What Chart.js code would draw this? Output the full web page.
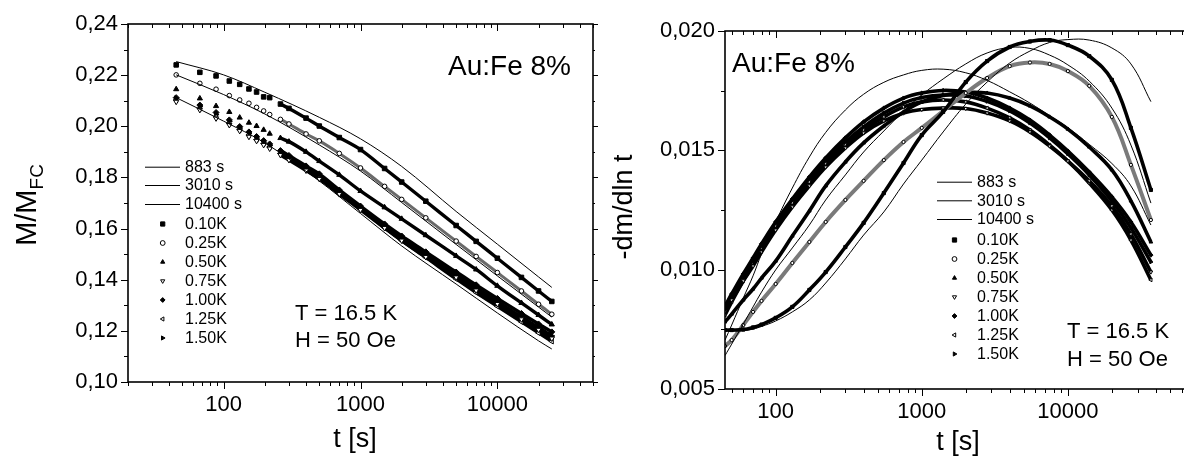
<!DOCTYPE html>
<html lang="en">
<head>
<meta charset="UTF-8">
<title>Au:Fe 8% relaxation</title>
<script src="https://cdn.jsdelivr.net/npm/chart.js"></script>
<style>
    body {
        margin: 0;
        background: #fff;
        overflow: hidden;
        width: 1184px;
        height: 458px;
        position: relative;
    }
    canvas { position: absolute; top: 0; }
    #leftChart { left: 0; }
    #rightChart { left: 600px; }
</style>
</head>
<body>
<canvas id="leftChart" width="600" height="458"></canvas>
<canvas id="rightChart" width="620" height="458"></canvas>
<script>
// ---------- left panel: M/M_FC vs t ----------
const tLeft = [45, 67, 88, 110, 131, 153, 174, 196, 217, 260, 300, 400, 500, 700, 1000, 1500, 2000, 3000, 5000, 7000, 10000, 15000, 20000, 25000];
const m010 = [0.2240, 0.2211, 0.2197, 0.2177, 0.2164, 0.2146, 0.2134, 0.2115, 0.2112, 0.2087, 0.2070, 0.2032, 0.2001, 0.1956, 0.1909, 0.1835, 0.1782, 0.1707, 0.1612, 0.1550, 0.1484, 0.1409, 0.1356, 0.1315];
const m025 = [0.2201, 0.2168, 0.2145, 0.2120, 0.2103, 0.2090, 0.2074, 0.2060, 0.2046, 0.2027, 0.2009, 0.1970, 0.1943, 0.1894, 0.1837, 0.1765, 0.1714, 0.1642, 0.1551, 0.1491, 0.1428, 0.1356, 0.1304, 0.1265];
const m050 = [0.2145, 0.2109, 0.2079, 0.2056, 0.2034, 0.2014, 0.2001, 0.1986, 0.1971, 0.1954, 0.1940, 0.1900, 0.1864, 0.1810, 0.1747, 0.1683, 0.1638, 0.1574, 0.1493, 0.1440, 0.1376, 0.1309, 0.1262, 0.1225];
const m075 = [0.2096, 0.2064, 0.2031, 0.2005, 0.1982, 0.1959, 0.1943, 0.1927, 0.1913, 0.1888, 0.1868, 0.1827, 0.1794, 0.1735, 0.1673, 0.1602, 0.1553, 0.1489, 0.1409, 0.1358, 0.1305, 0.1245, 0.1204, 0.1170];
const m100 = [0.2112, 0.2083, 0.2054, 0.2025, 0.1999, 0.1978, 0.1960, 0.1944, 0.1931, 0.1905, 0.1886, 0.1845, 0.1814, 0.1751, 0.1688, 0.1618, 0.1571, 0.1509, 0.1430, 0.1380, 0.1327, 0.1268, 0.1227, 0.1196];
const m125 = [0.2103, 0.2070, 0.2038, 0.2011, 0.1987, 0.1966, 0.1948, 0.1933, 0.1919, 0.1894, 0.1874, 0.1833, 0.1800, 0.1739, 0.1677, 0.1604, 0.1553, 0.1487, 0.1403, 0.1350, 0.1296, 0.1235, 0.1192, 0.1159];
const m150 = [0.2109, 0.2077, 0.2046, 0.2019, 0.1993, 0.1972, 0.1954, 0.1938, 0.1925, 0.1900, 0.1880, 0.1839, 0.1806, 0.1745, 0.1683, 0.1612, 0.1563, 0.1499, 0.1419, 0.1368, 0.1315, 0.1254, 0.1213, 0.1180];

// reference curves (thin lines)
const tLeftFit = [45, 100, 200, 500, 1000, 2000, 5000, 10000, 20000, 25000];
const fit883L = [0.2112, 0.2020, 0.1935, 0.1786, 0.1659, 0.1532, 0.1383, 0.1270, 0.1161, 0.1129];
const fit3010L = [0.2201, 0.2124, 0.2048, 0.1927, 0.1825, 0.1702, 0.1538, 0.1415, 0.1293, 0.1254];
const fit10400L = [0.2253, 0.2201, 0.2133, 0.2035, 0.1951, 0.1843, 0.1667, 0.1539, 0.1411, 0.1370];

// ---------- right panel: -dm/dln t vs t ----------
const tRight = [45, 50, 60, 70, 80, 100, 130, 170, 220, 300, 400, 550, 750, 1000, 1400, 2000, 2800, 4000, 5500, 7500, 10000, 14000, 20000, 27000, 37000];
const r010 = [0.00747, 0.00747, 0.00749, 0.00758, 0.00770, 0.00798, 0.00844, 0.00915, 0.00990, 0.01095, 0.01196, 0.01321, 0.01447, 0.01564, 0.01661, 0.01786, 0.01874, 0.01933, 0.01956, 0.01962, 0.01941, 0.01895, 0.01795, 0.01594, 0.01334];
const r025 = [0.00680, 0.00705, 0.00768, 0.00823, 0.00869, 0.00940, 0.01028, 0.01116, 0.01200, 0.01292, 0.01372, 0.01459, 0.01535, 0.01594, 0.01665, 0.01740, 0.01803, 0.01853, 0.01868, 0.01862, 0.01832, 0.01770, 0.01640, 0.01439, 0.01208];
const r050 = [0.00781, 0.00814, 0.00873, 0.00919, 0.00965, 0.01036, 0.01141, 0.01246, 0.01351, 0.01451, 0.01531, 0.01602, 0.01661, 0.01703, 0.01730, 0.01742, 0.01740, 0.01719, 0.01686, 0.01640, 0.01589, 0.01514, 0.01418, 0.01288, 0.01116];
const r075 = [0.00823, 0.00873, 0.00953, 0.01015, 0.01074, 0.01166, 0.01263, 0.01351, 0.01430, 0.01510, 0.01573, 0.01623, 0.01656, 0.01671, 0.01677, 0.01675, 0.01656, 0.01623, 0.01577, 0.01518, 0.01455, 0.01372, 0.01267, 0.01149, 0.00990];
const r100 = [0.00848, 0.00898, 0.00982, 0.01049, 0.01108, 0.01200, 0.01296, 0.01388, 0.01468, 0.01552, 0.01619, 0.01677, 0.01719, 0.01740, 0.01751, 0.01744, 0.01719, 0.01677, 0.01627, 0.01564, 0.01497, 0.01409, 0.01305, 0.01200, 0.01061];
const r125 = [0.00810, 0.00865, 0.00953, 0.01024, 0.01087, 0.01183, 0.01279, 0.01367, 0.01443, 0.01522, 0.01585, 0.01640, 0.01682, 0.01703, 0.01711, 0.01703, 0.01677, 0.01636, 0.01585, 0.01522, 0.01455, 0.01363, 0.01250, 0.01124, 0.00957];
const r150 = [0.00835, 0.00886, 0.00965, 0.01032, 0.01091, 0.01183, 0.01279, 0.01372, 0.01451, 0.01535, 0.01598, 0.01656, 0.01698, 0.01721, 0.01732, 0.01728, 0.01705, 0.01665, 0.01614, 0.01552, 0.01485, 0.01397, 0.01288, 0.01175, 0.01032];
const fit883R = [0.00705, 0.00768, 0.00881, 0.00974, 0.01066, 0.01200, 0.01342, 0.01472, 0.01575, 0.01669, 0.01735, 0.01785, 0.01816, 0.01835, 0.01840, 0.01825, 0.01793, 0.01745, 0.01698, 0.01645, 0.01595, 0.01525, 0.01445, 0.01351, 0.01187];
const fit3010R = [0.00640, 0.00688, 0.00772, 0.00844, 0.00906, 0.00999, 0.01091, 0.01187, 0.01292, 0.01397, 0.01493, 0.01581, 0.01664, 0.01732, 0.01799, 0.01862, 0.01908, 0.01931, 0.01927, 0.01899, 0.01858, 0.01790, 0.01677, 0.01522, 0.01279];
const fit10400R = [0.00743, 0.00743, 0.00745, 0.00751, 0.00762, 0.00785, 0.00823, 0.00873, 0.00944, 0.01045, 0.01145, 0.01242, 0.01359, 0.01459, 0.01577, 0.01694, 0.01786, 0.01866, 0.01916, 0.01952, 0.01964, 0.01962, 0.01929, 0.01862, 0.01704];

// labels and ticks
const fitLabels = ['883 s', '3010 s', '10400 s'];
const shiftLabels = ['0.10K', '0.25K', '0.50K', '0.75K', '1.00K', '1.25K', '1.50K'];
const xTicks = [100, 1000, 10000];
const yTicksLeft = [0.10, 0.12, 0.14, 0.16, 0.18, 0.20, 0.22, 0.24];
const yMinorLeft = [0.11, 0.13, 0.15, 0.17, 0.19, 0.21, 0.23];
const yTicksRight = [0.005, 0.010, 0.015, 0.020];
const yMinorRight = [0.0075, 0.0125, 0.0175];

const xMinor = [];
for (let d = 10; d <= 10000; d *= 10) {
    for (let k = 2; k <= 9; k++) xMinor.push(k * d);
}

const FONT = '"Liberation Sans", Arial, Helvetica, sans-serif';
const font = s => s + 'px ' + FONT;

// marker look of the 7 temperature-step series
const shiftStyles = [
    { pointStyle: 'rect', fill: '#000', rotation: 0, r: 3.2 },
    { pointStyle: 'circle', fill: '#fff', rotation: 0, r: 2.3 },
    { pointStyle: 'triangle', fill: '#000', rotation: 0, r: 3 },
    { pointStyle: 'triangle', fill: '#fff', rotation: 180, r: 3 },
    { pointStyle: 'rectRot', fill: '#000', rotation: 0, r: 3 },
    { pointStyle: 'triangle', fill: '#fff', rotation: -90, r: 3 },
    { pointStyle: 'triangle', fill: '#000', rotation: 90, r: 3 }
];

function pts(t, v) {
    return t.map((x, i) => ({ x: x, y: v[i] }));
}

function curve(smooth) {
    // left panel curves are monotone, right panel ones are bells
    return smooth === 'monotone'
        ? { cubicInterpolationMode: 'monotone' }
        : { cubicInterpolationMode: 'default', tension: 0.4 };
}

function fitSet(label, t, v, smooth) {
    return Object.assign({
        label: label,
        data: pts(t, v),
        showLine: true,
        borderColor: '#000',
        borderWidth: 1,
        pointRadius: 0
    }, curve(smooth));
}

function shiftSet(label, t, v, st, o) {
    const ds = Object.assign({
        label: label,
        data: pts(t, v),
        showLine: true,
        borderColor: st.pointStyle === 'circle' ? o.grey : '#000',
        borderWidth: st.pointStyle === 'circle' ? o.greyWidth : o.width,
        pointStyle: st.pointStyle,
        pointRotation: st.rotation,
        pointRadius: st.r * o.scale,
        pointBackgroundColor: st.fill,
        pointBorderColor: '#000',
        pointBorderWidth: 1
    }, curve(o.smooth));
    if (o.hideBelow) {
        // early points are sparse, no band there
        ds.segment = {
            borderColor: c => c.p0.parsed.x < o.hideBelow ? 'rgba(0,0,0,0)' : undefined
        };
    }
    return ds;
}

// frame, ticks, labels, notes and legend
function decorPlugin(d) {
    return {
        id: 'decor',
        afterDraw(chart) {
            const ctx = chart.ctx;
            const a = chart.chartArea;
            const xs = chart.scales.x;
            const ys = chart.scales.y;
            ctx.save();
            ctx.strokeStyle = '#000';
            ctx.fillStyle = '#000';

            ctx.lineWidth = 1;
            ctx.beginPath();
            const xt = (v, len) => {
                const p = Math.round(xs.getPixelForValue(v)) + 0.5;
                if (p < a.left - 1 || p > a.right + 1) return;
                ctx.moveTo(p, a.bottom); ctx.lineTo(p, a.bottom + len);
                ctx.moveTo(p, a.top); ctx.lineTo(p, a.top + len);
            };
            xTicks.forEach(v => xt(v, 7));
            xMinor.forEach(v => xt(v, 4));
            const yt = (v, len) => {
                const p = Math.round(ys.getPixelForValue(v)) + 0.5;
                ctx.moveTo(a.left - len, p); ctx.lineTo(a.left, p);
                ctx.moveTo(a.right, p); ctx.lineTo(a.right + len - 2, p);
            };
            d.yMajor.forEach(v => yt(v, 7));
            d.yMinor.forEach(v => yt(v, 4));
            ctx.stroke();

            ctx.lineWidth = 1.6;
            ctx.strokeRect(a.left, a.top, a.right - a.left, a.bottom - a.top);

            // tick labels
            ctx.font = font(22);
            ctx.textAlign = 'center';
            ctx.textBaseline = 'middle';
            xTicks.forEach(v => ctx.fillText(String(v), xs.getPixelForValue(v), a.bottom + 23));
            ctx.textAlign = 'right';
            d.yMajor.forEach(v => ctx.fillText(v.toFixed(d.digits).replace('.', ','), a.left - 10, ys.getPixelForValue(v)));

            // axis titles
            ctx.textBaseline = 'alphabetic';
            ctx.textAlign = 'center';
            ctx.font = font(27);
            ctx.fillText('t [s]', d.xTitle.x, d.xTitle.y);

            const ty = d.yTitle;
            ctx.save();
            ctx.translate(ty.x, ty.y);
            ctx.rotate(-Math.PI / 2);
            ctx.textAlign = 'left';
            ctx.font = font(ty.size);
            const w1 = ctx.measureText(ty.main).width;
            ctx.font = font(ty.subSize);
            const w2 = ty.sub ? ctx.measureText(ty.sub).width : 0;
            const x0 = -(w1 + w2) / 2;
            ctx.font = font(ty.size);
            ctx.fillText(ty.main, x0, 9);
            if (ty.sub) {
                ctx.font = font(ty.subSize);
                ctx.fillText(ty.sub, x0 + w1, 16);
            }
            ctx.restore();

            // notes
            ctx.textAlign = 'left';
            d.notes.forEach(n => {
                ctx.font = font(n.size);
                ctx.fillText(n.text, n.x, n.y);
            });

            // legend
            const lg = d.legend;
            ctx.font = font(16);
            ctx.textBaseline = 'middle';
            chart.data.datasets.forEach((ds, i) => {
                const y = lg.rows[i];
                ctx.lineWidth = 1;
                ctx.strokeStyle = '#000';
                if (ds.pointRadius === 0) {
                    ctx.beginPath();
                    ctx.moveTo(lg.x1, y + 0.5);
                    ctx.lineTo(lg.x2, y + 0.5);
                    ctx.stroke();
                } else if (Chart.helpers && Chart.helpers.drawPoint) {
                    ctx.fillStyle = ds.pointBackgroundColor;
                    Chart.helpers.drawPoint(ctx, {
                        pointStyle: ds.pointStyle,
                        rotation: ds.pointRotation,
                        radius: ds.pointStyle === 'rect' ? 3 : 2.4,
                        borderWidth: 1
                    }, lg.mx, y);
                }
                ctx.fillStyle = '#000';
                ctx.fillText(ds.label, lg.tx, y + 1);
            });
            ctx.restore();
        }
    };
}

function makeChart(id, datasets, xRange, yRange, padding, decor) {
    return new Chart(document.getElementById(id), {
        type: 'scatter',
        data: { datasets: datasets },
        options: {
            responsive: false,
            animation: false,
            devicePixelRatio: 1,
            layout: { padding: padding },
            plugins: { legend: { display: false }, tooltip: { enabled: false } },
            scales: {
                x: { type: 'logarithmic', min: xRange[0], max: xRange[1], display: false },
                y: { type: 'linear', min: yRange[0], max: yRange[1], display: false }
            }
        },
        plugins: [decorPlugin(decor)]
    });
}

// left chart
const leftSeries = [m010, m025, m050, m075, m100, m125, m150];
const leftOpts = { width: 3.4, grey: '#6a6a6a', greyWidth: 3, scale: 1, hideBelow: 240, smooth: 'monotone' };
const leftSets = [
    fitSet(fitLabels[0], tLeftFit, fit883L, 'monotone'),
    fitSet(fitLabels[1], tLeftFit, fit3010L, 'monotone'),
    fitSet(fitLabels[2], tLeftFit, fit10400L, 'monotone')
].concat(leftSeries.map((v, i) => shiftSet(shiftLabels[i], tLeft, v, shiftStyles[i], leftOpts)));

makeChart('leftChart', leftSets, [20, 50000], [0.10, 0.24],
    { left: 128, top: 24, right: 7, bottom: 76 },
    {
        yMajor: yTicksLeft, yMinor: yMinorLeft, digits: 2,
        xTitle: { x: 355, y: 447 },
        yTitle: { main: 'M/M', sub: 'FC', size: 29, subSize: 19, x: 27, y: 205 },
        notes: [
            { text: 'Au:Fe 8%', x: 448, y: 75, size: 28 },
            { text: 'T = 16.5 K', x: 295, y: 320, size: 22 },
            { text: 'H = 50 Oe', x: 295, y: 347, size: 22 }
        ],
        legend: { x1: 145, x2: 180, mx: 162.7, tx: 185, rows: [166.7, 185, 204, 224, 243, 262, 281, 300, 319, 338] }
    });

// right chart (its right edge runs past the window, as in the figure)
const rightSeries = [r010, r025, r050, r075, r100, r125, r150];
const rightOpts = { width: 3.6, grey: '#7a7a7a', greyWidth: 4, scale: 0.7, hideBelow: 0, smooth: 'bell' };
const rightSets = [
    fitSet(fitLabels[0], tRight, fit883R, 'bell'),
    fitSet(fitLabels[1], tRight, fit3010R, 'bell'),
    fitSet(fitLabels[2], tRight, fit10400R, 'bell')
].concat(rightSeries.map((v, i) => shiftSet(shiftLabels[i], tRight, v, shiftStyles[i], rightOpts)));

makeChart('rightChart', rightSets, [45, 100000], [0.005, 0.020],
    { left: 125, top: 31, right: 6, bottom: 69 },
    {
        yMajor: yTicksRight, yMinor: yMinorRight, digits: 3,
        xTitle: { x: 358, y: 450 },
        yTitle: { main: '-dm/dln t', sub: '', size: 27, subSize: 18, x: 23, y: 207 },
        notes: [
            { text: 'Au:Fe 8%', x: 132, y: 72, size: 28 },
            { text: 'T = 16.5 K', x: 467, y: 338, size: 22 },
            { text: 'H = 50 Oe', x: 467, y: 366, size: 22 }
        ],
        legend: { x1: 337, x2: 372, mx: 354.5, tx: 377, rows: [181.7, 200.3, 219, 240, 259, 278, 297, 316, 335, 354] }
    });
</script>
</body>
</html>
